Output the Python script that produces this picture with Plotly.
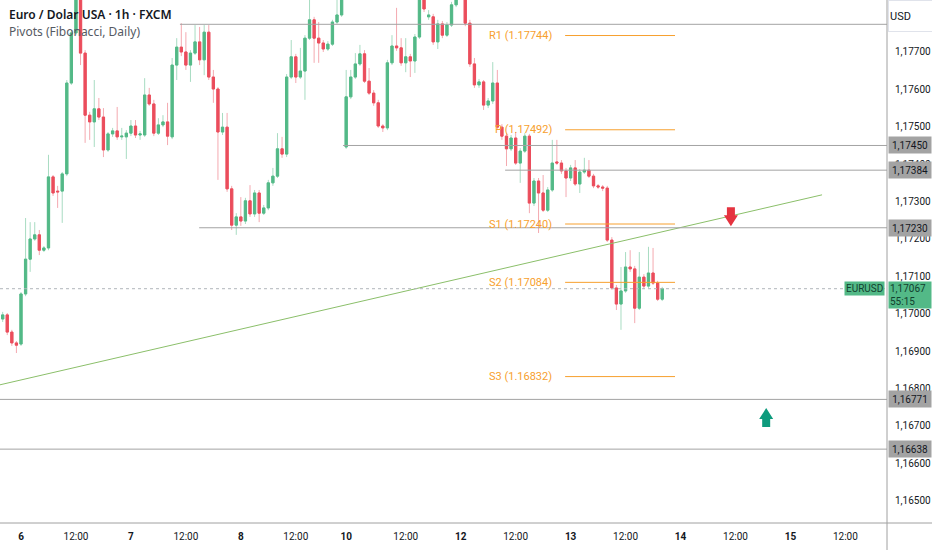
import plotly.graph_objects as go

# hourly bars, index 0 = day 6 00:00 (weekend gap removed)
bars = list(range(-4, 141))

opens = [1.16986, 1.16997, 1.16951, 1.16922,
    1.16919, 1.17053, 1.17146, 1.17200, 1.17211, 1.17170, 1.17176, 1.17366, 1.17328, 1.17328,
    1.17374, 1.17617, 1.17751, 1.17879, 1.17697, 1.17531, 1.17513, 1.17548, 1.17526, 1.17438,
    1.17481, 1.17489, 1.17473, 1.17473, 1.17483, 1.17502, 1.17478, 1.17478, 1.17585, 1.17561,
    1.17483, 1.17505, 1.17513, 1.17473, 1.17665, 1.17713, 1.17700, 1.17665, 1.17697, 1.17727,
    1.17679, 1.17753, 1.17633, 1.17601, 1.17486, 1.17499, 1.17334, 1.17237, 1.17259, 1.17248,
    1.17302, 1.17267, 1.17323, 1.17269, 1.17283, 1.17350, 1.17368, 1.17441, 1.17427, 1.17633,
    1.17687, 1.17633, 1.17649, 1.17737, 1.17786, 1.17737, 1.17724, 1.17708, 1.17721, 1.17780,
    1.17799, 1.17446, 1.17580, 1.17633, 1.17668, 1.17695, 1.17622, 1.17590, 1.17564, 1.17502,
    1.17497, 1.17671, 1.17716, 1.17711, 1.17671, 1.17687, 1.17676, 1.17740, 1.17852, 1.17794,
    1.17794, 1.17727, 1.17775, 1.17745, 1.17772, 1.17826, 1.17871, 1.17850, 1.17777, 1.17668,
    1.17612, 1.17620, 1.17558, 1.17569, 1.17617, 1.17499, 1.17475, 1.17441, 1.17470, 1.17403,
    1.17435, 1.17475, 1.17296, 1.17355, 1.17323, 1.17277, 1.17331, 1.17406, 1.17403, 1.17382,
    1.17363, 1.17390, 1.17347, 1.17379, 1.17384, 1.17368, 1.17342, 1.17339, 1.17336, 1.17197,
    1.17069, 1.17026, 1.17061, 1.17125, 1.17120, 1.17015, 1.17098, 1.17074, 1.17109, 1.17082,
    1.17039]

highs = [1.17005, 1.17002, 1.16957, 1.16927,
    1.17058, 1.17256, 1.17245, 1.17245, 1.17224, 1.17181, 1.17425, 1.17371, 1.17342, 1.17379,
    1.17625, 1.17759, 1.17906, 1.17892, 1.17705, 1.17540, 1.17625, 1.17577, 1.17550, 1.17486,
    1.17497, 1.17553, 1.17497, 1.17491, 1.17518, 1.17518, 1.17489, 1.17630, 1.17604, 1.17572,
    1.17523, 1.17531, 1.17564, 1.17684, 1.17737, 1.17777, 1.17753, 1.17705, 1.17772, 1.17767,
    1.17772, 1.17772, 1.17652, 1.17606, 1.17537, 1.17537, 1.17342, 1.17269, 1.17312, 1.17310,
    1.17344, 1.17331, 1.17331, 1.17291, 1.17358, 1.17390, 1.17483, 1.17473, 1.17641, 1.17732,
    1.17695, 1.17711, 1.17745, 1.17852, 1.17794, 1.17780, 1.17732, 1.17729, 1.17786, 1.17852,
    1.17879, 1.17652, 1.17652, 1.17697, 1.17719, 1.17705, 1.17657, 1.17598, 1.17572, 1.17507,
    1.17679, 1.17745, 1.17818, 1.17737, 1.17737, 1.17695, 1.17748, 1.17871, 1.17866, 1.17812,
    1.17802, 1.17786, 1.17783, 1.17780, 1.17834, 1.17887, 1.17892, 1.17860, 1.17786, 1.17684,
    1.17628, 1.17625, 1.17577, 1.17673, 1.17652, 1.17507, 1.17483, 1.17478, 1.17486, 1.17443,
    1.17483, 1.17481, 1.17363, 1.17363, 1.17371, 1.17339, 1.17465, 1.17465, 1.17411, 1.17390,
    1.17398, 1.17411, 1.17387, 1.17417, 1.17411, 1.17374, 1.17347, 1.17344, 1.17342, 1.17205,
    1.17077, 1.17125, 1.17165, 1.17170, 1.17128, 1.17165, 1.17106, 1.17179, 1.17176, 1.17088,
    1.17072]

lows = [1.16978, 1.16943, 1.16914, 1.16895,
    1.16914, 1.17047, 1.17112, 1.17195, 1.17157, 1.17165, 1.17170, 1.17315, 1.17283, 1.17243,
    1.17368, 1.17612, 1.17745, 1.17665, 1.17457, 1.17465, 1.17446, 1.17518, 1.17419, 1.17433,
    1.17473, 1.17465, 1.17465, 1.17414, 1.17475, 1.17470, 1.17465, 1.17473, 1.17556, 1.17475,
    1.17478, 1.17499, 1.17451, 1.17467, 1.17625, 1.17689, 1.17652, 1.17620, 1.17692, 1.17665,
    1.17638, 1.17625, 1.17564, 1.17358, 1.17478, 1.17326, 1.17224, 1.17211, 1.17235, 1.17240,
    1.17259, 1.17259, 1.17245, 1.17264, 1.17277, 1.17342, 1.17363, 1.17417, 1.17419, 1.17628,
    1.17617, 1.17628, 1.17572, 1.17732, 1.17671, 1.17671, 1.17700, 1.17703, 1.17716, 1.17775,
    1.17794, 1.17441, 1.17574, 1.17628, 1.17663, 1.17617, 1.17585, 1.17556, 1.17497, 1.17486,
    1.17491, 1.17665, 1.17703, 1.17663, 1.17646, 1.17633, 1.17644, 1.17735, 1.17807, 1.17786,
    1.17719, 1.17708, 1.17737, 1.17740, 1.17767, 1.17820, 1.17844, 1.17769, 1.17660, 1.17604,
    1.17604, 1.17545, 1.17550, 1.17561, 1.17494, 1.17465, 1.17395, 1.17435, 1.17398, 1.17350,
    1.17430, 1.17269, 1.17288, 1.17216, 1.17272, 1.17272, 1.17326, 1.17398, 1.17374, 1.17312,
    1.17355, 1.17342, 1.17323, 1.17374, 1.17363, 1.17336, 1.17334, 1.17328, 1.17192, 1.17064,
    1.17010, 1.16957, 1.17056, 1.17112, 1.16975, 1.17010, 1.17066, 1.17069, 1.17077, 1.17034,
    1.17034]

closes = [1.16997, 1.16951, 1.16922, 1.16916,
    1.17053, 1.17146, 1.17200, 1.17211, 1.17170, 1.17176, 1.17366, 1.17323, 1.17326, 1.17374,
    1.17617, 1.17751, 1.17879, 1.17697, 1.17531, 1.17513, 1.17548, 1.17526, 1.17438, 1.17481,
    1.17489, 1.17473, 1.17475, 1.17483, 1.17502, 1.17478, 1.17481, 1.17585, 1.17561, 1.17483,
    1.17505, 1.17513, 1.17475, 1.17665, 1.17713, 1.17700, 1.17665, 1.17697, 1.17727, 1.17679,
    1.17753, 1.17633, 1.17601, 1.17486, 1.17499, 1.17334, 1.17237, 1.17259, 1.17248, 1.17302,
    1.17267, 1.17323, 1.17269, 1.17283, 1.17350, 1.17368, 1.17441, 1.17427, 1.17633, 1.17687,
    1.17633, 1.17649, 1.17737, 1.17786, 1.17737, 1.17724, 1.17708, 1.17721, 1.17780, 1.17799,
    1.17860, 1.17580, 1.17633, 1.17668, 1.17695, 1.17622, 1.17590, 1.17564, 1.17502, 1.17497,
    1.17671, 1.17716, 1.17711, 1.17671, 1.17687, 1.17676, 1.17740, 1.17852, 1.17815, 1.17799,
    1.17727, 1.17775, 1.17745, 1.17772, 1.17826, 1.17866, 1.17850, 1.17777, 1.17668, 1.17612,
    1.17620, 1.17558, 1.17569, 1.17617, 1.17499, 1.17475, 1.17441, 1.17470, 1.17403, 1.17435,
    1.17475, 1.17296, 1.17355, 1.17323, 1.17277, 1.17331, 1.17403, 1.17403, 1.17382, 1.17363,
    1.17390, 1.17347, 1.17379, 1.17384, 1.17368, 1.17342, 1.17339, 1.17336, 1.17197, 1.17069,
    1.17026, 1.17061, 1.17125, 1.17120, 1.17015, 1.17098, 1.17074, 1.17109, 1.17082, 1.17039,
    1.17067]

tick_pos = [0, 12, 24, 36, 48, 60, 71, 84, 96, 108, 120, 132, 144, 156, 168, 180]
tick_text = ["6", "12:00", "7", "12:00", "8", "12:00", "10", "12:00",
             "12", "12:00", "13", "12:00", "14", "12:00", "15", "12:00"]

price_ticks = [1.165, 1.166, 1.167, 1.168, 1.169, 1.170, 1.171,
               1.172, 1.173, 1.174, 1.175, 1.176, 1.177]

pivot_names = ["R1", "P", "S1", "S2", "S3"]
pivot_values = [1.17744, 1.17492, 1.17240, 1.17084, 1.16832]

level_prices = [1.17774, 1.17450, 1.17384, 1.17230, 1.16771, 1.16638]
level_start = [34.7, 70.3, 105.7, 38.9, -4.6, -4.6]
level_labels = [None, "1,17450", "1,17384", "1,17230", "1,16771", "1,16638"]

last_price = 1.17067
trend_x = [-4.6, 174.9]
trend_y = [1.16810, 1.17318]

X0, X1 = -4.585, 189.08
Y0, Y1 = 1.164405, 1.17839

UP, DOWN = "#53b987", "#eb4d5c"
ORANGE = "#f7a02e"
GRAY = "#a3a3a3"

fig = go.Figure()

# wicks (light)
fig.add_trace(go.Candlestick(
    x=bars, open=opens, high=highs, low=lows, close=closes,
    increasing=dict(line=dict(color="#a8dcc2", width=1), fillcolor="#a8dcc2"),
    decreasing=dict(line=dict(color="#f4a9b0", width=1), fillcolor="#f4a9b0"),
    hoverinfo="skip", showlegend=False))

# bodies
body_hi = [max(o, c) for o, c in zip(opens, closes)]
body_lo = [min(o, c) for o, c in zip(opens, closes)]
fig.add_trace(go.Candlestick(
    x=bars, open=opens, high=body_hi, low=body_lo, close=closes,
    increasing=dict(line=dict(color=UP, width=1), fillcolor=UP),
    decreasing=dict(line=dict(color=DOWN, width=1), fillcolor=DOWN),
    showlegend=False))

shapes = []
# trend line
shapes.append(dict(type="line", xref="x", yref="y", x0=trend_x[0], y0=trend_y[0],
                   x1=trend_x[1], y1=trend_y[1], line=dict(color="#8bbf6a", width=1)))
# horizontal levels
for p, s in zip(level_prices, level_start):
    shapes.append(dict(type="line", xref="x", yref="y", x0=s, x1=X1, y0=p, y1=p,
                       line=dict(color=GRAY, width=1)))
# pivots
for p in pivot_values:
    shapes.append(dict(type="line", xref="x", yref="y", x0=118.8, x1=142.8, y0=p, y1=p,
                       line=dict(color=ORANGE, width=1)))
# last price dotted line
shapes.append(dict(type="line", xref="x", yref="y", x0=X0, x1=X1, y0=last_price, y1=last_price,
                   line=dict(color="#b0b5ba", width=1, dash="dot")))
# axis borders
shapes.append(dict(type="line", xref="paper", yref="paper", x0=1, x1=1, y0=-27 / 523, y1=1,
                   line=dict(color="#a0a0a0", width=1)))
shapes.append(dict(type="line", xref="paper", yref="paper", x0=0, x1=932 / 887, y0=0, y1=0,
                   line=dict(color="#a0a0a0", width=1)))
# arrows
shapes.append(dict(type="path", xref="x", yref="y", xsizemode="pixel", ysizemode="pixel",
                   xanchor=155.0, yanchor=1.17261,
                   path="M -4,9 L 4,9 L 4,1 L 7,1 L 0,-10 L -7,1 L -4,1 Z",
                   fillcolor="#e5333f", line=dict(width=0)))
shapes.append(dict(type="path", xref="x", yref="y", xsizemode="pixel", ysizemode="pixel",
                   xanchor=162.7, yanchor=1.16721,
                   path="M -4,-9 L 4,-9 L 4,-1 L 7,-1 L 0,10 L -7,-1 L -4,-1 Z",
                   fillcolor="#0e9b7d", line=dict(width=0)))

annotations = []
for name, v in zip(pivot_names, pivot_values):
    annotations.append(dict(x=116.3, y=v, xref="x", yref="y", xanchor="right", yanchor="middle",
                            text=f"{name} ({v:.5f})", showarrow=False,
                            font=dict(color=ORANGE, size=11, family="Roboto")))
for p, lab in zip(level_prices, level_labels):
    if lab:
        annotations.append(dict(x=1, y=p, xref="paper", yref="y", xanchor="left", yanchor="middle",
                                xshift=1, text=lab, showarrow=False, bgcolor=GRAY, width=40,
                                height=14, font=dict(color="#131722", size=10, family="Roboto")))
annotations.append(dict(x=1, y=last_price, xref="paper", yref="y", xanchor="left", yanchor="top",
                        xshift=1, yshift=8, text="1,17067<br>55:15", showarrow=False,
                        bgcolor=UP, width=40, align="left",
                        font=dict(color="#12402e", size=10, family="Roboto")))
annotations.append(dict(x=1, y=last_price, xref="paper", yref="y", xanchor="right", yanchor="middle",
                        xshift=-2, text="EURUSD", showarrow=False, bgcolor=UP, borderpad=1,
                        font=dict(color="#12402e", size=10, family="Roboto")))
annotations.append(dict(x=1, y=1, xref="paper", yref="paper", xanchor="left", yanchor="top",
                        xshift=1, text="USD", showarrow=False, bgcolor="white", width=43, height=28,
                        bordercolor="#e0e3eb", borderwidth=1, align="left",
                        font=dict(color="#131722", size=11, family="Roboto")))
annotations.append(dict(x=7 / 887, y=1 - 15 / 523, xref="paper", yref="paper", xanchor="left",
                        yanchor="middle", text="Euro / Dolar USA · 1h · FXCM", showarrow=False,
                        font=dict(color="#131722", size=12, family="Noto Sans", weight=600)))
annotations.append(dict(x=7 / 887, y=1 - 31 / 523, xref="paper", yref="paper", xanchor="left",
                        yanchor="middle", text="Pivots (Fibonacci, Daily)", showarrow=False,
                        font=dict(color="#555a63", size=12, family="Noto Sans")))

tick_labels = [f"<b>{t}</b>" if ":" not in t else t for t in tick_text]

fig.update_layout(
    width=932, height=550,
    margin=dict(l=0, r=45, t=0, b=27, autoexpand=False),
    paper_bgcolor="white", plot_bgcolor="white",
    shapes=shapes, annotations=annotations,
    xaxis=dict(range=[X0, X1], rangeslider=dict(visible=False), showgrid=False, zeroline=False,
               tickvals=tick_pos, ticktext=tick_labels, ticks="", automargin=False,
               ticklabelstandoff=6,
               tickfont=dict(color="#131722", size=10, family="Roboto")),
    yaxis=dict(range=[Y0, Y1], side="right", showgrid=False, zeroline=False, automargin=False,
               tickvals=price_ticks, ticktext=[f"{t:.5f}".replace(".", ",") for t in price_ticks],
               ticks="outside", ticklen=5, tickcolor="white",
               tickfont=dict(color="#131722", size=10, family="Roboto")),
    hovermode=False,
)

fig.write_html("out.html", config={"displayModeBar": False},
               post_script="document.body.style.margin='0px';")
